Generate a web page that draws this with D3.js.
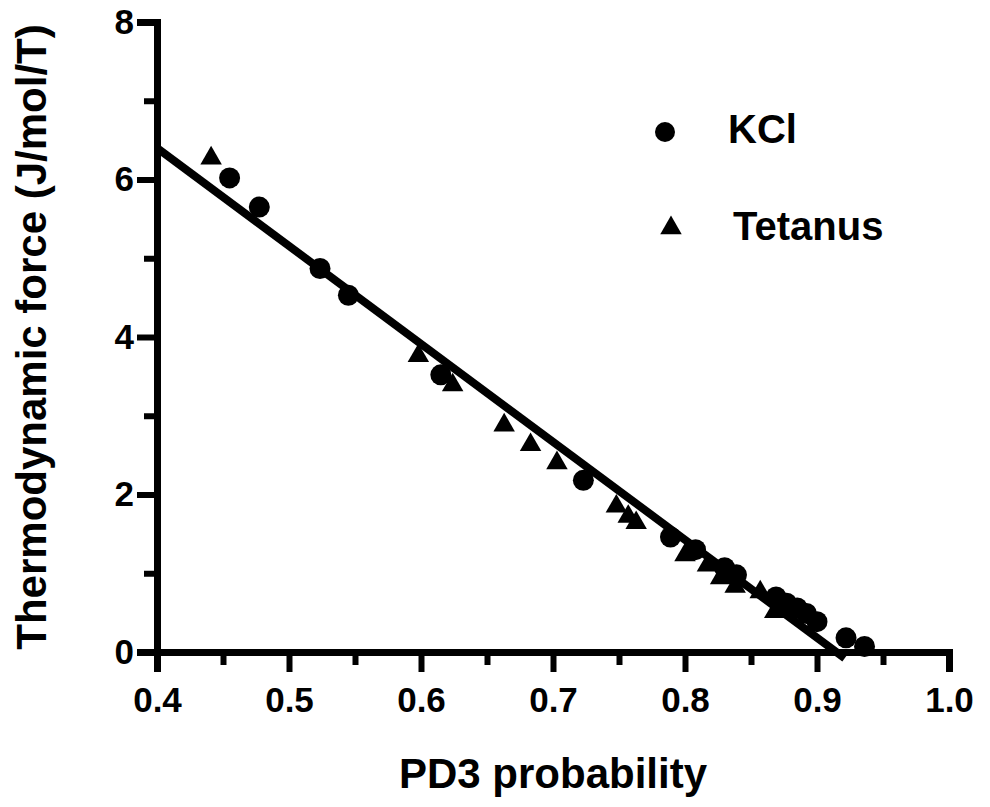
<!DOCTYPE html>
<html>
<head>
<meta charset="utf-8">
<script src="https://cdn.jsdelivr.net/npm/d3@7"></script>
<style>
    body { margin: 0; background: white; }
    text { font-family: "Liberation Sans", Arial, Helvetica, sans-serif; font-weight: bold; }
</style>
</head>
<body>
<svg id="vis"></svg>
<script>
// data
const KCL_X = [0.455, 0.4775, 0.5235, 0.545, 0.615, 0.723, 0.789, 0.808, 0.830, 0.839, 0.869, 0.877, 0.885, 0.892, 0.900, 0.922, 0.936]
const KCL_Y = [6.02, 5.65, 4.87, 4.53, 3.52, 2.18, 1.46, 1.30, 1.07, 0.98, 0.70, 0.62, 0.56, 0.49, 0.385, 0.18, 0.07]
const TET_X = [0.441, 0.598, 0.624, 0.663, 0.683, 0.703, 0.748, 0.757, 0.763, 0.800, 0.817, 0.827, 0.838, 0.857, 0.868]
const TET_Y = [6.27, 3.76, 3.39, 2.88, 2.63, 2.40, 1.85, 1.72, 1.64, 1.23, 1.10, 0.94, 0.83, 0.76, 0.51]
const FIT_X = [0.4, 0.921]
const FIT_Y = [6.40, -0.08]
const X_TICKS = [0.4, 0.5, 0.6, 0.7, 0.8, 0.9, 1.0]
const X_MINOR = [0.45, 0.55, 0.65, 0.75, 0.85, 0.95]
const Y_TICKS = [0, 2, 4, 6, 8]
const Y_MINOR = [1, 3, 5, 7]
const SERIES = ['KCl', 'Tetanus']

const W = 990
const H = 807

var svg = d3.select('#vis')
    .attr('width', W)
    .attr('height', H)

var x = d3.scaleLinear().domain([0.4, 1.0]).range([157, 949])
var y = d3.scaleLinear().domain([0, 8]).range([652, 22])

// minor ticks first so the axis sits on top
svg.append('g')
    .attr('transform', `translate(0,${y(0)})`)
    .call(d3.axisBottom(x).tickValues(X_MINOR).tickSize(13).tickSizeOuter(0).tickFormat(''))
    .call(g => g.select('.domain').remove())
    .call(g => g.selectAll('line').attr('stroke', 'black').attr('stroke-width', 6))

svg.append('g')
    .attr('transform', `translate(${x(0.4)},0)`)
    .call(d3.axisLeft(y).tickValues(Y_MINOR).tickSize(13).tickSizeOuter(0).tickFormat(''))
    .call(g => g.select('.domain').remove())
    .call(g => g.selectAll('line').attr('stroke', 'black').attr('stroke-width', 6))

// x axis
svg.append('g')
    .attr('transform', `translate(0,${y(0)})`)
    .call(d3.axisBottom(x).tickValues(X_TICKS).tickSize(20).tickSizeOuter(20).tickPadding(15).tickFormat(d3.format('.1f')))
    .call(g => g.select('.domain').attr('stroke-width', 7).attr('stroke-linejoin', 'miter'))
    .call(g => g.selectAll('line').attr('stroke-width', 6))
    .call(g => g.selectAll('text').attr('font-size', 35).attr('fill', 'black'))

// y axis
svg.append('g')
    .attr('transform', `translate(${x(0.4)},0)`)
    .call(d3.axisLeft(y).tickValues(Y_TICKS).tickSize(20).tickSizeOuter(20).tickPadding(3).tickFormat(d3.format('d')))
    .call(g => g.select('.domain').attr('stroke-width', 7).attr('stroke-linejoin', 'miter'))
    .call(g => g.selectAll('line').attr('stroke-width', 6))
    .call(g => g.selectAll('text').attr('font-size', 35).attr('fill', 'black'))

// axis titles
svg.append('text')
    .attr('x', 553)
    .attr('y', 788)
    .attr('font-size', 42)
    .style('text-anchor', 'middle')
    .text('PD3 probability')

svg.append('text')
    .attr('transform', 'translate(46,337) rotate(-90)')
    .attr('font-size', 42)
    .style('text-anchor', 'middle')
    .text('Thermodynamic force (J/mol/T)')

// linear fit
svg.append('path')
    .datum(d3.zip(FIT_X, FIT_Y))
    .attr('fill', 'none')
    .attr('stroke', 'black')
    .attr('stroke-width', 8)
    .attr('d', d3.line().x(d => x(d[0])).y(d => y(d[1])))

var circle = d3.symbol().type(d3.symbolCircle).size(Math.PI * 10.5 * 10.5)
var triangle = d3.symbol().type(d3.symbolTriangle).size(200)

// tetanus points
svg.append('g')
    .selectAll('path')
    .data(d3.zip(TET_X, TET_Y))
    .join('path')
    .attr('transform', d => `translate(${x(d[0])},${y(d[1])})`)
    .attr('d', triangle)
    .attr('fill', 'black')

// kcl points
svg.append('g')
    .selectAll('path')
    .data(d3.zip(KCL_X, KCL_Y))
    .join('path')
    .attr('transform', d => `translate(${x(d[0])},${y(d[1])})`)
    .attr('d', circle)
    .attr('fill', 'black')

// legend
var legend = svg.append('g')
legend.append('path')
    .attr('transform', 'translate(665,132)')
    .attr('d', d3.symbol().type(d3.symbolCircle).size(Math.PI * 100))
legend.append('path')
    .attr('transform', 'translate(671,228)')
    .attr('d', d3.symbol().type(d3.symbolTriangle).size(200))
legend.append('text')
    .attr('x', 728)
    .attr('y', 143)
    .attr('font-size', 40)
    .text(SERIES[0])
legend.append('text')
    .attr('x', 733)
    .attr('y', 240)
    .attr('font-size', 40)
    .text(SERIES[1])
</script>
</body>
</html>
